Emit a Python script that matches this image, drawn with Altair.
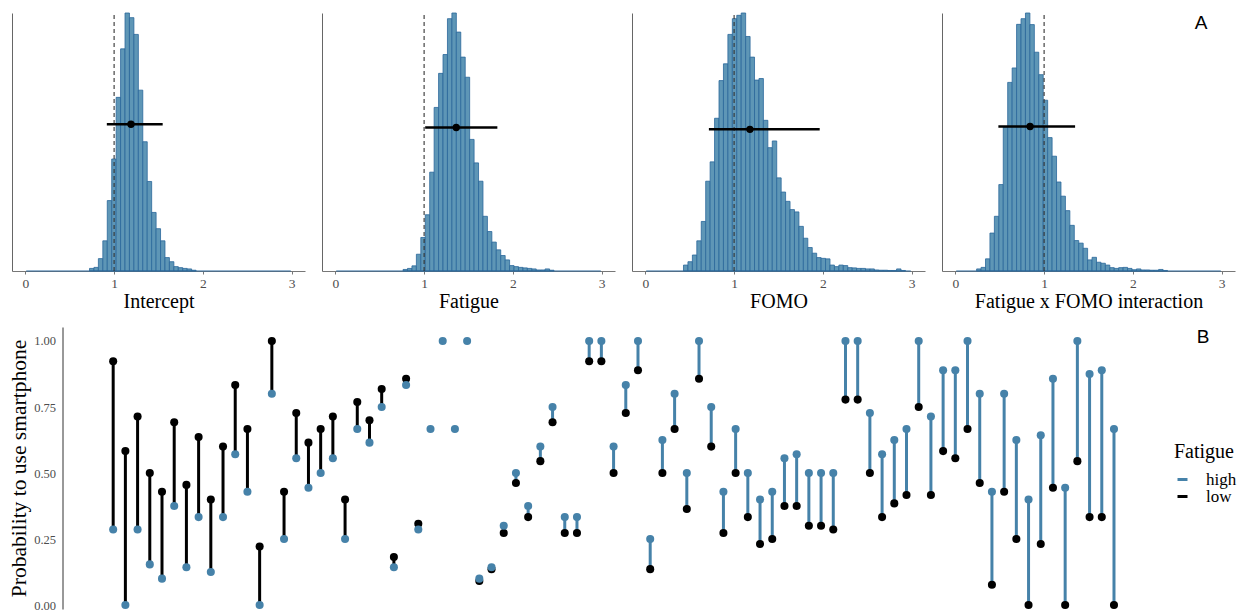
import altair as alt
import pandas as pd

SERIF = "Liberation Serif"
SANS = "Liberation Sans"
BAR_FILL = "#5E96B6"
BAR_EDGE = "#2A679A"
BLUE = "#4682A9"

# ---------------- Panel A: posterior histograms ----------------
panel_titles = ["Intercept", "Fatigue", "FOMO", "Fatigue x FOMO interaction"]
bin_width = 0.05
bin_starts = [0.723, 0.763, 0.43, 0.24]

intercept_heights = [0.01, 0.014, 0.048, 0.117, 0.273, 0.434, 0.673, 0.861, 1.0, 0.982,
                     0.917, 0.701, 0.501, 0.347, 0.227, 0.164, 0.117, 0.052, 0.036, 0.017,
                     0.013, 0.01, 0.008, 0.003]
fatigue_heights = [0.006, 0.01, 0.02, 0.065, 0.13, 0.218, 0.383, 0.634, 0.766, 0.839,
                   0.978, 1.0, 0.926, 0.829, 0.751, 0.51, 0.419, 0.348, 0.212, 0.153,
                   0.112, 0.082, 0.06, 0.043, 0.021, 0.017, 0.014, 0.012, 0.01, 0.008,
                   0.004, 0.004, 0.008, 0.003]
fomo_heights = [0.023, 0.036, 0.062, 0.117, 0.192, 0.348, 0.423, 0.592, 0.738, 0.803,
                0.917, 0.978, 0.991, 1.0, 0.909, 0.829, 0.74, 0.746, 0.584, 0.478,
                0.504, 0.361, 0.306, 0.27, 0.238, 0.229, 0.173, 0.127, 0.091, 0.069,
                0.052, 0.049, 0.047, 0.023, 0.017, 0.023, 0.021, 0.013, 0.012, 0.01,
                0.01, 0.008, 0.008, 0.004, 0.003, 0.003, 0.002, 0.002, 0.008, 0.002]
interaction_heights = [0.008, 0.014, 0.047, 0.147, 0.212, 0.335, 0.558, 0.731, 0.787, 0.956,
                       0.978, 1.0, 0.955, 0.848, 0.761, 0.662, 0.517, 0.445, 0.345, 0.29,
                       0.234, 0.177, 0.118, 0.108, 0.088, 0.043, 0.053, 0.034, 0.03, 0.023,
                       0.013, 0.01, 0.013, 0.014, 0.01, 0.005, 0.008, 0.004, 0.004, 0.003,
                       0.003, 0.006, 0.002]
all_heights = [intercept_heights, fatigue_heights, fomo_heights, interaction_heights]

hist_range = [0.01, 2.99]
reference_value = 1.0
estimates = [1.19, 1.362, 1.178, 0.842]
ci_low = [0.918, 1.012, 0.716, 0.485]
ci_high = [1.547, 1.825, 1.964, 1.349]
interval_y = [0.569, 0.556, 0.549, 0.56]

PW, PH = 293, 258


def panel(i):
    heights = all_heights[i]
    start = bin_starts[i]
    df = pd.DataFrame({"x0": [start + k * bin_width for k in range(len(heights))],
                       "h": heights})
    df["x1"] = df["x0"] + bin_width
    df["zero"] = 0.0
    xs = alt.Scale(domain=[-0.15, 3.15], nice=False, zero=False)
    ys = alt.Scale(domain=[0, 1], nice=False, zero=False)
    xaxis = alt.Axis(values=[0, 1, 2, 3], format="d", title=panel_titles[i], grid=False,
                     labelFont=SERIF, labelFontSize=13.5, labelColor="#4d4d4d", labelPadding=2,
                     tickSize=3, tickColor="#777777", domainColor="#777777",
                     titleFont=SERIF, titleFontSize=20, titleFontWeight="normal",
                     titleColor="black", titlePadding=2)
    yaxis = alt.Axis(labels=False, ticks=False, title=None, grid=False,
                     domainColor="#666666")
    bars = alt.Chart(df).mark_bar(fill=BAR_FILL, stroke=BAR_EDGE, strokeWidth=0.8,
                                  opacity=1).encode(
        x=alt.X("x0:Q", scale=xs, axis=xaxis, title=panel_titles[i]),
        x2="x1:Q",
        y=alt.Y("h:Q", scale=ys, axis=yaxis, title=None),
        y2="zero:Q",
    )
    base_df = pd.DataFrame({"a": [hist_range[0]], "b": [hist_range[1]], "z": [0.0]})
    baseline = alt.Chart(base_df).mark_rule(color=BAR_EDGE, strokeWidth=1).encode(
        x=alt.X("a:Q", axis=xaxis, title=panel_titles[i]), x2="b:Q",
        y=alt.Y("z:Q", axis=yaxis, title=None))
    ref_df = pd.DataFrame({"r": [reference_value], "y0": [0.0], "y1": [1.0]})
    ref = alt.Chart(ref_df).mark_rule(color="#333333", strokeWidth=1.1,
                                      strokeDash=[4, 3]).encode(
        x=alt.X("r:Q", axis=xaxis, title=panel_titles[i]),
        y=alt.Y("y0:Q", axis=yaxis, title=None), y2="y1:Q")
    iv_df = pd.DataFrame({"est": [estimates[i]], "lo": [ci_low[i]], "hi": [ci_high[i]],
                          "yv": [interval_y[i]]})
    interval = alt.Chart(iv_df).mark_rule(color="black", strokeWidth=2.5).encode(
        x=alt.X("lo:Q", axis=xaxis, title=panel_titles[i]), x2="hi:Q",
        y=alt.Y("yv:Q", axis=yaxis, title=None))
    point = alt.Chart(iv_df).mark_circle(color="black", size=55, opacity=1).encode(
        x=alt.X("est:Q", axis=xaxis, title=panel_titles[i]),
        y=alt.Y("yv:Q", axis=yaxis, title=None))
    layers = [bars, baseline, ref, interval, point]
    if i == 3:
        lab = alt.Chart(pd.DataFrame({"t": ["A"]})).mark_text(
            font=SANS, fontSize=19, color="black", align="center", baseline="middle").encode(
            text="t:N", x=alt.value(259), y=alt.value(10))
        layers.append(lab)
    return alt.layer(*layers).properties(width=PW, height=PH)


top = alt.hconcat(*[panel(i) for i in range(4)], spacing=17)

# ---------------- Panel B: probability per participant ----------------
participant = list(range(1, 84))
prob_low = [0.923, 0.583, 0.714, 0.5, 0.429, 0.692, 0.455, 0.636, 0.4, 0.6,
            0.833, 0.667, 0.222, 1.0, 0.429, 0.727, 0.615, 0.667, 0.714, 0.4,
            0.769, 0.7, 0.818, 0.182, 0.857, 0.308, None, None, None, None,
            0.091, 0.136, 0.273, 0.462, 0.333, 0.545, 0.692, 0.273, 0.273, 0.923,
            0.923, 0.5, 0.727, 0.889, 0.136, 0.5, 0.667, 0.364, 0.857, 0.6,
            0.273, 0.5, 0.333, 0.231, 0.25, 0.375, 0.375, 0.3, 0.3, 0.286,
            0.778, 0.778, 0.5, 0.333, 0.385, 0.417, 0.75, 0.417, 0.583, 0.556,
            0.667, 0.462, 0.077, 0.429, 0.25, 0.0, 0.231, 0.444, 0.0, 0.545,
            0.333, 0.333, 0.0]
prob_high = [0.286, 0.0, 0.286, 0.154, 0.1, 0.375, 0.143, 0.333, 0.125, 0.333,
             0.571, 0.429, 0.0, 0.8, 0.25, 0.556, 0.444, 0.5, 0.556, 0.25,
             0.667, 0.615, 0.75, 0.143, 0.833, 0.286, 0.667, 1.0, 0.667, 1.0,
             0.1, 0.143, 0.3, 0.5, 0.375, 0.6, 0.75, 0.333, 0.333, 1.0,
             1.0, 0.6, 0.833, 1.0, 0.25, 0.625, 0.8, 0.5, 1.0, 0.75,
             0.429, 0.667, 0.5, 0.4, 0.429, 0.556, 0.571, 0.5, 0.5, 0.5,
             1.0, 1.0, 0.727, 0.571, 0.625, 0.667, 1.0, 0.714, 0.889, 0.889,
             1.0, 0.8, 0.429, 0.8, 0.625, 0.4, 0.643, 0.857, 0.444, 1.0,
             0.875, 0.889, 0.667]
fatigue_levels = ["high", "low"]

seg_rows, pt_rows = [], []
for pid, lo, hi in zip(participant, prob_low, prob_high):
    if lo is not None:
        seg_rows.append({"id": pid, "low": lo, "high": hi,
                         "dir": "high" if hi >= lo else "low"})
        pt_rows.append({"id": pid, "cond": "low", "value": lo, "ord": 0})
for pid, hi in zip(participant, prob_high):
    pt_rows.append({"id": pid, "cond": "high", "value": hi, "ord": 1})
df_seg = pd.DataFrame(seg_rows)
df_pts = pd.DataFrame(pt_rows)

YTITLE = "Probability to use smartphone"
color_scale = alt.Scale(domain=fatigue_levels, range=[BLUE, "black"])
xs_b = alt.Scale(domain=[-7.29, 87.18], nice=False, zero=False)
ys_b = alt.Scale(domain=[-0.015, 1.053], nice=False, zero=False)
yaxis_b = alt.Axis(values=[0, 0.25, 0.5, 0.75, 1.0], format=".2f", grid=False, ticks=False,
                   labelFont=SERIF, labelFontSize=12.5, labelColor="#4d4d4d", labelPadding=7,
                   domainColor="#333333", title=YTITLE, offset=-50.5,
                   titleFont=SERIF, titleFontSize=21.5, titleFontWeight="normal",
                   titleColor="black", titlePadding=3)
legend_b = alt.Legend(title="Fatigue", orient="none", legendX=1162, legendY=429,
                      titleFont=SERIF, titleFontSize=20,
                      titleFontWeight="normal", titleColor="black",
                      titlePadding=9, labelFont=SERIF, labelFontSize=17,
                      labelColor="black", symbolType="stroke",
                      symbolStrokeWidth=3, symbolSize=100, labelOffset=15,
                      rowPadding=-2)

seg = alt.Chart(df_seg).mark_rule(strokeWidth=3).encode(
    x=alt.X("id:Q", scale=xs_b, axis=None),
    y=alt.Y("low:Q", scale=ys_b, axis=yaxis_b, title=YTITLE),
    y2="high:Q",
    color=alt.Color("dir:N", scale=color_scale, legend=legend_b, title="Fatigue"),
)
pts = alt.Chart(df_pts).mark_circle(size=65, opacity=1).encode(
    x=alt.X("id:Q", axis=None),
    y=alt.Y("value:Q", axis=yaxis_b, title=YTITLE),
    color=alt.Color("cond:N", legend=legend_b, title="Fatigue"),
    order=alt.Order("ord:Q"),
)
lab_b = alt.Chart(pd.DataFrame({"t": ["B"]})).mark_text(
    font=SANS, fontSize=19, color="black", align="center", baseline="middle").encode(
    text="t:N", x=alt.value(1191), y=alt.value(10))

bottom = alt.layer(seg, pts, lab_b).properties(width=1153, height=282)

chart = alt.vconcat(top, bottom, spacing=15).properties(
    padding={"left": 0, "top": 4, "right": 0, "bottom": 0}
).configure_view(stroke=None)

chart.save("out.html", embed_options={"renderer": "svg", "actions": False})
